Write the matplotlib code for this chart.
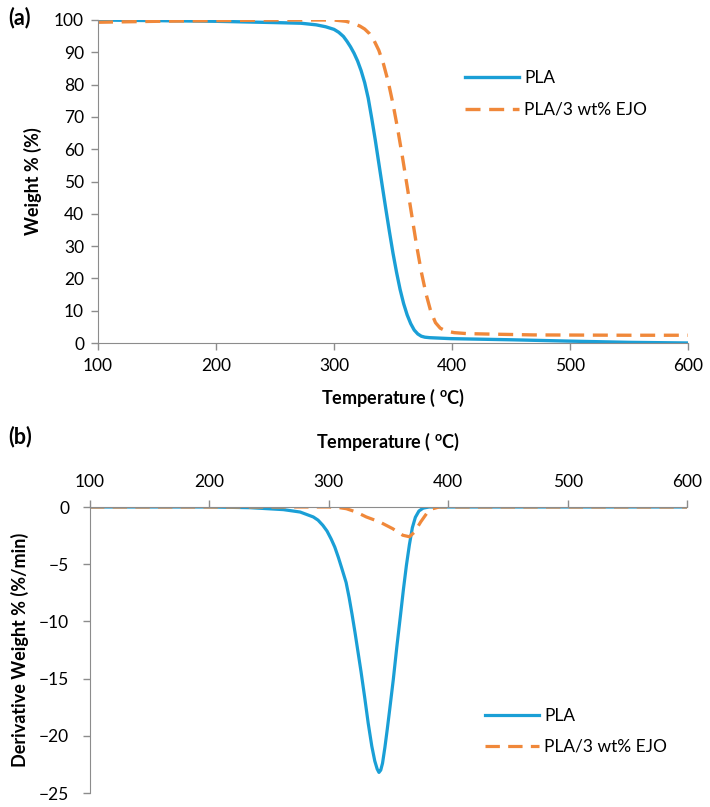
import matplotlib
matplotlib.use("Agg")
from matplotlib import pyplot as plt

plt.rcParams['font.family'] = ['Lato', 'DejaVu Sans']

# (a) TGA, weight % vs temperature
pla_t = [100, 150, 200, 250, 272, 285, 293, 300, 304, 308, 311, 314, 317, 320, 323, 326,
         329, 332, 335, 338, 341, 344, 347, 350, 353, 356, 359, 362, 365, 368, 371, 374,
         377, 381, 387, 399, 450, 497, 550, 600]
pla_w = [100, 99.8, 99.6, 99.2, 99.0, 98.5, 97.9, 97.1, 96.2, 94.9, 93.4, 91.7, 89.7, 87.3,
         84.3, 80.6, 75.8, 69.5, 62.8, 55.6, 48.4, 41.3, 34.4, 27.8, 21.9, 16.6, 12.2, 8.7,
         6.0, 4.0, 2.8, 2.1, 1.8, 1.65, 1.55, 1.35, 1.0, 0.6, 0.2, 0.0]

ejo_t = [100, 150, 200, 250, 300, 310, 316, 322, 326, 330, 334, 338, 342, 346, 350, 354,
         358, 362, 366, 370, 374, 378, 382, 386, 390, 395, 402, 413, 440, 469, 550, 600]
ejo_w = [99.3, 99.6, 99.8, 100, 100, 99.6, 99.0, 98.1, 97.2, 95.8, 93.6, 90.6, 86.3, 80.8,
         74.0, 66.2, 57.6, 48.5, 39.3, 30.2, 22.0, 15.2, 9.8, 6.3, 4.6, 3.7, 3.2, 2.9, 2.7,
         2.5, 2.4, 2.4]

# (b) DTG, derivative weight vs temperature
pla_dt = [100, 200, 234, 262, 276, 287, 291, 295, 298.5, 302, 305, 308, 311, 314.5, 317,
          319.5, 322, 324.5, 327, 330, 333, 336, 338.5, 340.5, 342, 343.5, 345, 347, 349,
          351, 354, 357, 360, 362.5, 365, 367.5, 370, 372.5, 375.5, 379, 384, 400, 500, 600]
pla_dw = [0, 0, -0.06, -0.23, -0.44, -0.87, -1.15, -1.6, -2.1, -2.8, -3.5, -4.4, -5.4, -6.6,
          -7.9, -9.4, -11.0, -12.7, -14.4, -16.6, -18.9, -20.9, -22.2, -22.9, -23.2, -23.0,
          -22.4, -21.0, -19.4, -17.7, -15.1, -12.2, -9.5, -7.2, -5.1, -3.3, -1.8, -0.9,
          -0.35, -0.1, 0, 0, 0, 0]

ejo_dt = [100, 200, 300, 309, 314.7, 323, 331.4, 342.5, 353.6, 362, 367.5, 371.7, 377,
          382.8, 387, 392.5, 400, 500, 600]
ejo_dw = [0, 0, 0, -0.06, -0.15, -0.44, -0.87, -1.3, -1.9, -2.47, -2.6, -2.2, -1.3,
          -0.44, -0.15, 0, 0, 0, 0]

x_ticks = [100, 200, 300, 400, 500, 600]
wt_ticks = [0, 10, 20, 30, 40, 50, 60, 70, 80, 90, 100]
dtg_ticks = [0, -5, -10, -15, -20, -25]

blue = '#1a9fd6'
orange = '#f0883a'
grey = '#8c8c8c'
W, H = 710, 807

fig = plt.figure(figsize=(W / 100, H / 100), dpi=100)


def fx(px):
    return px / W


def fy(py):
    return 1 - py / H


def style_axis(ax):
    for s in ax.spines.values():
        s.set_visible(False)
    ax.tick_params(colors=grey, labelcolor='black', labelsize=12.5, length=5, width=1)


# ---- panel (a)
ax1 = fig.add_axes([fx(98), fy(343), fx(688) - fx(98), fy(20) - fy(343)])
ax1.plot(pla_t, pla_w, color=blue, lw=2.4, label='PLA')
ax1.plot(ejo_t, ejo_w, color=orange, lw=2.4, dashes=(4.5, 2.6), label='PLA/3 wt% EJO')
ax1.set_xlim(100, 600)
ax1.set_ylim(0, 100)
ax1.set_xticks(x_ticks)
ax1.set_yticks(wt_ticks)
style_axis(ax1)
ax1.spines['left'].set_visible(True)
ax1.spines['bottom'].set_visible(True)
ax1.spines['left'].set_color(grey)
ax1.spines['bottom'].set_color(grey)
ax1.tick_params(axis='x', pad=6)
ax1.tick_params(axis='y', pad=5)
ax1.set_xlabel('Temperature ( $\\mathregular{^{o}}$C)', fontsize=13, fontweight='bold',
               labelpad=9)
ax1.set_ylabel('Weight % (%)', fontsize=13, fontweight='bold', labelpad=9)
ax1.legend(loc='upper left', bbox_to_anchor=(fx(465), fy(70)), bbox_transform=fig.transFigure,
           frameon=False, fontsize=12.5, handlelength=3.1, handletextpad=0.3,
           labelspacing=0.9, borderpad=0, borderaxespad=0)
fig.text(fx(8), fy(18), '(a)', fontsize=15.5, fontweight='bold', va='center', ha='left')

# ---- panel (b)
ax2 = fig.add_axes([fx(90), fy(793), fx(687) - fx(90), fy(507) - fy(793)])
ax2.plot(pla_dt, pla_dw, color=blue, lw=2.3, label='PLA')
ax2.plot(ejo_dt, ejo_dw, color=orange, lw=2.3, dashes=(4.5, 2.6), label='PLA/3 wt% EJO')
ax2.set_xlim(100, 600)
ax2.set_ylim(-25, 0)
ax2.set_xticks(x_ticks)
ax2.set_yticks(dtg_ticks)
style_axis(ax2)
ax2.spines['left'].set_visible(True)
ax2.spines['top'].set_visible(True)
ax2.spines['left'].set_color(grey)
ax2.spines['top'].set_color(grey)
ax2.xaxis.set_ticks_position('top')
ax2.xaxis.set_label_position('top')
ax2.tick_params(axis='x', pad=7)
ax2.tick_params(axis='y', pad=10)
ax2.set_xlabel('Temperature ( $\\mathregular{^{o}}$C)', fontsize=13, fontweight='bold',
               labelpad=19)
ax2.set_ylabel('Derivative Weight % (%/min)', fontsize=13, fontweight='bold', labelpad=7)
ax2.legend(loc='upper left', bbox_to_anchor=(fx(485), fy(708)), bbox_transform=fig.transFigure,
           frameon=False, fontsize=12.5, handlelength=3.1, handletextpad=0.3,
           labelspacing=0.85, borderpad=0, borderaxespad=0)
fig.text(fx(8), fy(437), '(b)', fontsize=15.5, fontweight='bold', va='center', ha='left')

fig.savefig('out.png', dpi=100)
